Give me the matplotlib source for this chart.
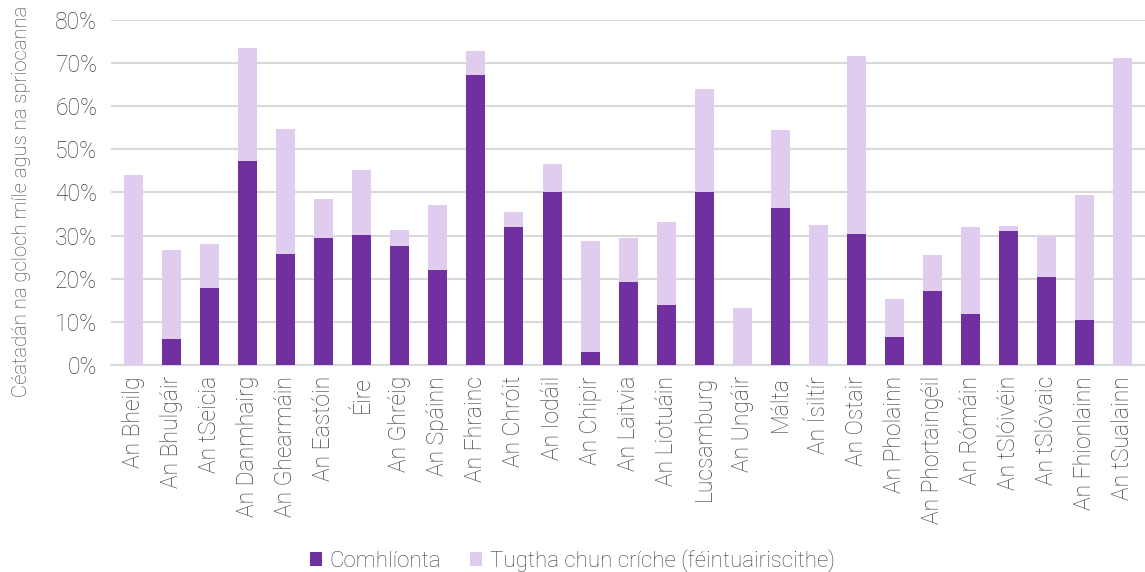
import matplotlib.pyplot as plt
import numpy as np

# Data
countries = ["An Bheilg", "An Bhulgáir", "An tSeicia", "An Danmhairg", "An Ghearmáin",
             "An Eastóin", "Éire", "An Ghréig", "An Spáinn", "An Fhrainc", "An Chróit",
             "An Iodáil", "An Chipir", "An Laitvia", "An Liotuáin", "Lucsamburg",
             "An Ungáir", "Málta", "An Ísiltír", "An Ostair", "An Pholainn",
             "An Phortaingéil", "An Rómáin", "An tSlóivéin", "An tSlóvaic",
             "An Fhionlainn", "An tSualainn"]
completed = [0.0, 6.0, 17.8, 47.3, 25.8, 29.5, 30.2, 27.7, 22.0, 67.2, 32.1, 40.2, 3.0,
             19.2, 14.0, 40.0, 0.0, 36.3, 0.0, 30.4, 6.4, 17.2, 11.8, 31.0, 20.4, 10.5, 0.0]
total = [44.0, 26.7, 28.0, 73.6, 54.8, 38.6, 45.3, 31.3, 37.0, 72.7, 35.5, 46.5, 28.7,
         29.5, 33.1, 64.0, 13.2, 54.5, 32.4, 71.6, 15.4, 25.6, 32.0, 32.3, 29.8, 39.3, 71.3]
self_reported = [t - c for t, c in zip(total, completed)]

plt.rcParams['font.family'] = ['Roboto', 'DejaVu Sans']
plt.rcParams['font.weight'] = 'light'
text_color = "#404040"
dark = "#7030A0"
light = "#E0CCEE"

fig = plt.figure(figsize=(11.45, 5.72), dpi=100)
ax = fig.add_axes([0.097, 0.362, 0.903, 0.603])

x = np.arange(len(countries))
ax.bar(x, completed, width=0.5, color=dark, label="Comhlíonta", zorder=3)
ax.bar(x, self_reported, width=0.5, bottom=completed, color=light,
       label="Tugtha chun críche (féintuairiscithe)", zorder=3)

ax.set_ylim(0, 80)
ax.set_xlim(-0.6, len(countries) - 0.4)
ax.set_yticks(range(0, 81, 10))
ax.set_yticklabels([f"{v}%" for v in range(0, 81, 10)])
ax.set_xticks(x)
ax.set_xticklabels(countries, rotation=90)
ax.tick_params(axis='both', length=0, labelsize=16.5, colors=text_color)
ax.tick_params(axis='y', pad=10)
ax.tick_params(axis='x', pad=8)
ax.grid(axis='y', color="#D9D9D9", linewidth=1.5, zorder=0)
for s in ["top", "right", "left"]:
    ax.spines[s].set_visible(False)
ax.spines["bottom"].set_color("#D9D9D9")
ax.spines["bottom"].set_linewidth(1.5)

ax.set_ylabel("Céatadán na gcloch míle agus na spriocanna", fontsize=14.6, color=text_color,
              fontweight='light')
ax.yaxis.set_label_coords(-0.077, 0.475)

fig.legend(loc="lower center", bbox_to_anchor=(0.5, -0.035), ncol=2, frameon=False,
           fontsize=16, labelcolor=text_color, handlelength=0.55, handleheight=0.55,
           handletextpad=0.35, columnspacing=1.3)

fig.savefig("out.png", dpi=100)
